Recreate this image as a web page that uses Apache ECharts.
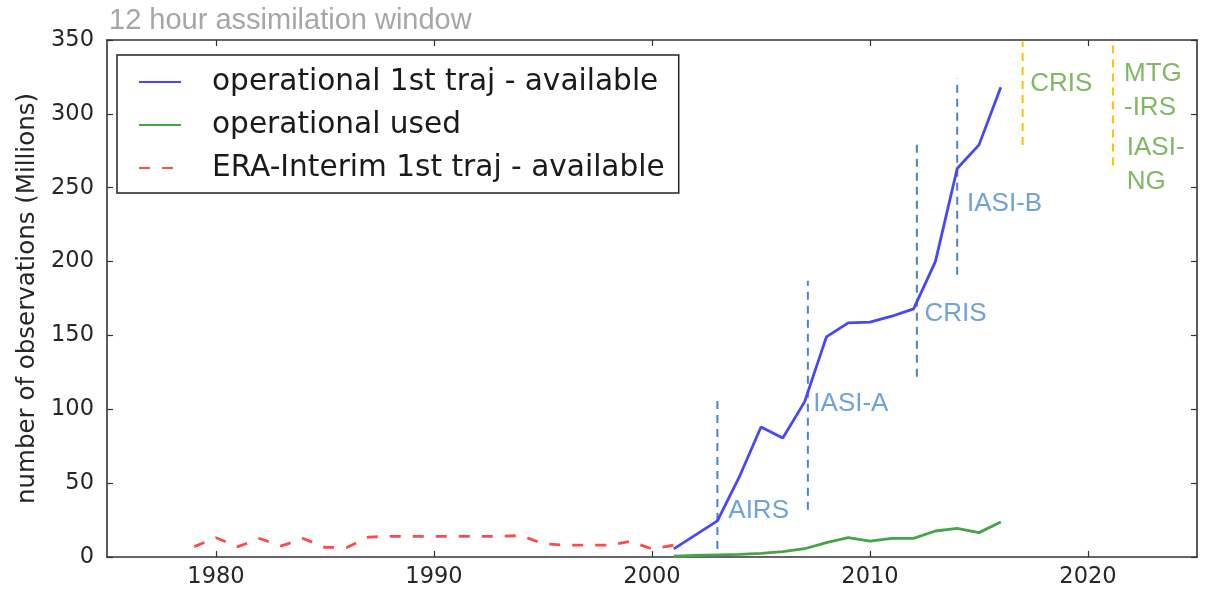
<!DOCTYPE html>
<html><head><meta charset="utf-8">
<script src="https://cdn.jsdelivr.net/npm/echarts@6/dist/echarts.min.js"></script>
<style>html,body{margin:0;padding:0;background:#fff}#c{width:1205px;height:592px}</style>
</head><body><div id="c"></div>
<script>
// ---- data ----
const eraYears = [1979,1980,1981,1982,1983,1984,1985,1986,1987,1988,1989,1990,1991,1992,1993,1994,1995,1996,1997,1998,1999,2000,2001];
const eraValues = [7,13,7,12.5,7.5,12.5,6.5,6.5,13.5,14,14,14,14,14,14,14.5,9,8,8,8,10.5,5.5,8];
const opYears = [2001,2002,2003,2004,2005,2006,2007,2008,2009,2010,2011,2012,2013,2014,2015,2016];
const opAvailable = [5.5,15,24.5,54,88,80.5,105,149,158.5,159,163,168,200,263,279,318];
const opUsed = [0.5,1,1.4,1.8,2.5,3.6,5.6,9.7,13.1,10.8,12.6,12.6,17.6,19.4,16.5,23.7];
const xTicks = [1980,1990,2000,2010,2020];
// instrument markers: [year, bottom, top]
const instrumentLines = [[2003,5.5,108],[2007.15,32,187],[2012.15,122,280],[2014.0,191,324]];
const futureLines = [[2017.0,279,349],[2021.15,265,347]];
const instrumentLabels = [['AIRS',2003.5,31.5],['IASI-A',2007.4,103.6],['CRIS',2012.5,164.5],['IASI-B',2014.45,239]];
const futureLabels = [['CRIS',2017.35,320.4],['MTG',2021.65,327.4],['-IRS',2021.65,304.3],['IASI-',2021.78,277.3],['NG',2021.78,254.2]];

const names = ['operational 1st traj - available','operational used','ERA-Interim 1st traj - available'];
const zip = (xs, ys) => xs.map((x,i)=>[x, ys[i]]);

const axisCol = '#333';
const tickFont = {fontFamily:'DejaVu Sans', fontSize:22.5, color:'#262626'};

const series = [
  {name:names[0], type:'line', data:zip(opYears,opAvailable), symbol:'none', lineStyle:{color:'#4646ff', width:2.8}, itemStyle:{color:'#4646ff'}, z:5},
  {name:names[1], type:'line', data:zip(opYears,opUsed), symbol:'none', lineStyle:{color:'#45a445', width:2.8}, itemStyle:{color:'#45a445'}, z:5},
  {name:names[2], type:'line', data:zip(eraYears,eraValues), symbol:'none', lineStyle:{color:'#ff4a4a', width:2.8, type:[11,12]}, itemStyle:{color:'#ff4a4a'}, z:5}
];
instrumentLines.forEach(l => series.push({type:'line', silent:true, symbol:'none', data:[[l[0],l[1]],[l[0],l[2]]], lineStyle:{color:'#4a84c4', width:2, type:[8,6]}, z:3}));
futureLines.forEach(l => series.push({type:'line', silent:true, symbol:'none', data:[[l[0],l[1]],[l[0],l[2]]], lineStyle:{color:'#ffc000', width:2, type:[8,6]}, z:3}));
function labelSeries(arr, color){
  return {type:'scatter', silent:true, symbolSize:0.01, itemStyle:{color:'rgba(0,0,0,0)'},
    data: arr.map(a=>({name:a[0], value:[a[1],a[2]]})),
    label:{show:true, position:'right', distance:0, formatter:'{b}', color:color, fontFamily:'Liberation Sans', fontSize:26},
    z:6};
}
series.push(labelSeries(instrumentLabels,'#4a8bd0'));
series.push(labelSeries(futureLabels,'#62a53c'));

function xAx(pos, showLabel){
  return {type:'value', min:1975, max:2025, position:pos,
    axisLine:{show:true, onZero:false, lineStyle:{color:axisCol, width:1.6}},
    axisTick:{show:true, inside:true, length:6, customValues:xTicks, lineStyle:{color:axisCol, width:1.2}},
    axisLabel: showLabel ? Object.assign({customValues:xTicks, margin:9, formatter:(v)=>String(Math.round(v))}, tickFont) : {show:false},
    splitLine:{show:false}};
}
function yAx(pos, showLabel){
  const a = {type:'value', min:0, max:350, interval:50, position:pos,
    axisLine:{show:true, onZero:false, lineStyle:{color:axisCol, width:1.6}},
    axisTick:{show:true, inside:true, length:6, lineStyle:{color:axisCol, width:1.2}},
    axisLabel: showLabel ? Object.assign({margin:13}, tickFont) : {show:false},
    splitLine:{show:false}};
  if (showLabel) {
    a.name = 'number of observations (Millions)';
    a.nameLocation = 'middle';
    a.nameGap = 58;
    a.nameTextStyle = {fontFamily:'DejaVu Sans', fontSize:24.5, color:'#262626'};
  }
  return a;
}

const chart = echarts.init(document.getElementById('c'), null, {renderer:'canvas'});
chart.setOption({
  animation:false,
  backgroundColor:'#fff',
  title:{text:'12 hour assimilation window', left:104, top:1, textStyle:{fontFamily:'Liberation Sans', fontSize:29, fontWeight:'normal', color:'#a6a6a6'}},
  grid:{left:107, right:8, top:40, bottom:35, containLabel:false},
  legend:{data:names, orient:'vertical', left:117, top:55, itemWidth:42, itemHeight:14, itemGap:13,
    itemStyle:{opacity:0, borderWidth:0},
    backgroundColor:'#fff', borderColor:'#222', borderWidth:1.5, borderRadius:0, padding:[12,14,10,21],
    textStyle:{fontFamily:'DejaVu Sans', fontSize:29.6, color:'#1a1a1a', lineHeight:30, padding:[0,0,0,26]}},
  xAxis:[xAx('bottom',true), xAx('top',false)],
  yAxis:[yAx('left',true), yAx('right',false)],
  series: series
});
</script></body></html>
